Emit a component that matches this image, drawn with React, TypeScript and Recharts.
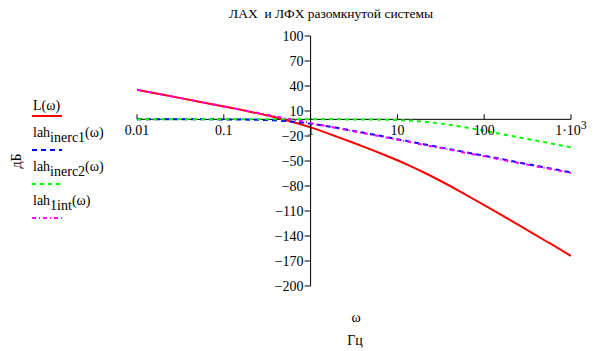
import React from "react";
import {
  LineChart,
  Line,
  XAxis,
  YAxis,
  ReferenceLine,
  ReferenceDot,
} from "recharts";

// частоты (рад/с), логарифмическая шкала
const omega = [
  0.01, 0.02, 0.05, 0.1, 0.2, 0.3, 0.5, 0.7, 1, 2, 3, 5, 7, 10, 15, 20, 30, 50,
  70, 100, 200, 300, 500, 700, 1000,
];

// ЛАХ, дБ
const lTotal = [
  35.5, 29.5, 21.5, 15.5, 9.2, 5.2, -0.4, -4.7, -9.7, -20.7, -27.5, -36.4,
  -42.5, -49.1, -57.3, -63.5, -72.8, -85.2, -93.8, -103, -121, -131.8, -145.4,
  -154.2, -164,
];
const lahInerc1 = [
  0, 0, 0, -0.1, -0.4, -0.8, -2, -3.3, -5.3, -10.2, -13.5, -17.8, -20.7, -23.8,
  -27.3, -29.8, -33.3, -37.7, -40.6, -43.7, -49.8, -53.3, -57.7, -60.6, -63.7,
];
const lahInerc2 = [
  0, 0, 0, 0, 0, 0, 0, 0, 0, 0, -0.1, -0.2, -0.5, -0.9, -1.8, -2.8, -4.8, -8.2,
  -10.8, -13.7, -19.6, -23.1, -27.5, -30.5, -33.6,
];
const lah1int = [
  35.6, 29.5, 21.6, 15.6, 9.5, 6, 1.6, -1.3, -4.4, -10.5, -14, -18.4, -21.3,
  -24.4, -28, -30.5, -34, -38.4, -41.3, -44.4, -50.5, -54, -58.4, -61.3, -64.4,
];

const xTicks = [0.01, 0.1, 1, 10, 100, 1000];
const xTickLabels = ["0.01", "0.1", "1", "10", "100", "1\u00b710^3"];
const yTicks = [100, 70, 40, 10, -20, -50, -80, -110, -140, -170, -200];

const legendMain = ["L", "lah", "lah", "lah"];
const legendSub = ["", "inerc1", "inerc2", "1int"];

const data = omega.map((w, i) => ({
  w,
  L: lTotal[i],
  inerc1: lahInerc1[i],
  inerc2: lahInerc2[i],
  int1: lah1int[i],
}));

const series = [
  { key: "L", color: "#ff0000", dash: undefined },
  { key: "inerc1", color: "#0000ff", dash: "5 4" },
  { key: "inerc2", color: "#00ff00", dash: "4 4" },
  { key: "int1", color: "#ff00ff", dash: "4 3 1 3" },
];

const FONT = '"Liberation Serif", "Times New Roman", serif';

function XTick(props: any) {
  const { cx, cy, label } = props;
  const [main, sup] = label.split("^");
  return (
    <g>
      <line x1={cx} y1={cy} x2={cx} y2={cy - 5} stroke="#000" />
      <text
        x={cx}
        y={cy + 16}
        textAnchor="middle"
        fontFamily={FONT}
        fontSize={14}
        fill="#000"
      >
        {main}
        {sup && (
          <tspan dy={-6} fontSize={12}>
            {sup}
          </tspan>
        )}
      </text>
    </g>
  );
}

function YTick(props: any) {
  const { cx, cy, label } = props;
  return (
    <g>
      <line x1={cx - 6} y1={cy} x2={cx} y2={cy} stroke="#000" />
      <text
        x={cx - 7}
        y={cy + 5}
        textAnchor="end"
        fontFamily={FONT}
        fontSize={14}
        fill="#000"
      >
        {label}
      </text>
    </g>
  );
}

export default function App() {
  return (
    <div
      style={{
        position: "absolute",
        left: 0,
        top: 0,
        width: 599,
        height: 351,
        background: "#fff",
      }}
    >
      <LineChart
        width={599}
        height={351}
        data={data}
        margin={{ top: 36, right: 28, bottom: 65, left: 137 }}
      >
        <XAxis
          type="number"
          dataKey="w"
          scale="log"
          domain={[0.01, 1000]}
          allowDataOverflow
          hide
        />
        <YAxis type="number" domain={[-200, 100]} allowDataOverflow hide />
        <ReferenceLine y={0} stroke="#000" />
        <ReferenceLine x={1} stroke="#000" />
        {xTicks.map((t, i) => (
          <ReferenceDot
            key={"x" + t}
            x={t}
            y={0}
            r={0}
            shape={(p: any) => <XTick {...p} label={xTickLabels[i]} />}
          />
        ))}
        {yTicks.map((t) => (
          <ReferenceDot
            key={"y" + t}
            x={1}
            y={t}
            r={0}
            shape={(p: any) => (
              <YTick {...p} label={String(t).replace("-", "\u2212")} />
            )}
          />
        ))}
        {series.map((s) => (
          <Line
            key={s.key}
            dataKey={s.key}
            stroke={s.color}
            strokeWidth={2}
            strokeDasharray={s.dash}
            dot={false}
            type="monotone"
            isAnimationActive={false}
          />
        ))}
      </LineChart>
      <svg
        width={599}
        height={351}
        style={{ position: "absolute", left: 0, top: 0, pointerEvents: "none" }}
      >
        <text
          x={229}
          y={18}
          fontFamily={FONT}
          fontSize={13.5}
          fill="#000"
          xmlSpace="preserve"
        >
          ЛАХ  и ЛФХ разомкнутой системы
        </text>
        {series.map((s, i) => {
          const lineY = 116 + 34 * i;
          const sub = legendSub[i];
          const textY = lineY - (sub ? 13 : 6);
          return (
            <g key={s.key}>
              <text x={33} y={textY} fontFamily={FONT} fontSize={14} fill="#000">
                {legendMain[i]}
                {sub && <tspan dy={5}>{sub}</tspan>}
                <tspan dy={sub ? -5 : 0}>(ω)</tspan>
              </text>
              <line
                x1={32}
                x2={62}
                y1={lineY}
                y2={lineY}
                stroke={s.color}
                strokeWidth={2}
                strokeDasharray={s.dash}
              />
            </g>
          );
        })}
        <text
          x={0}
          y={0}
          transform="translate(21,161) rotate(-90)"
          textAnchor="middle"
          fontFamily={FONT}
          fontSize={14}
          fill="#000"
        >
          дБ
        </text>
        <text x={356} y={322} textAnchor="middle" fontFamily={FONT} fontSize={14} fill="#000">
          ω
        </text>
        <text x={355} y={345} textAnchor="middle" fontFamily={FONT} fontSize={14} fill="#000">
          Гц
        </text>
      </svg>
    </div>
  );
}
